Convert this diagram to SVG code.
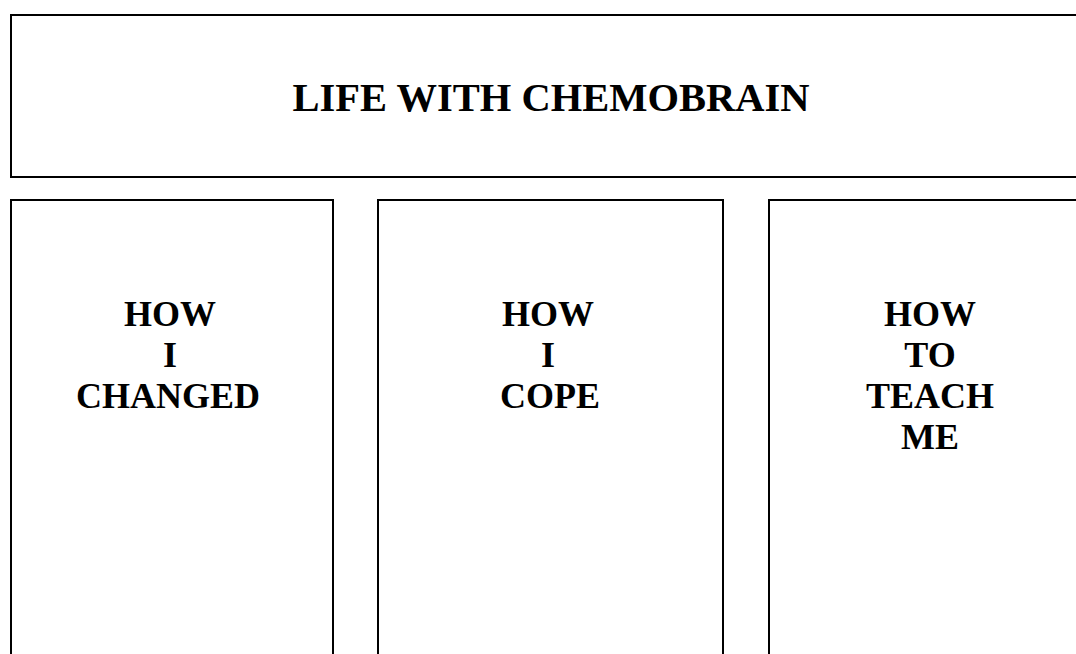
<svg xmlns="http://www.w3.org/2000/svg" width="1076" height="654" viewBox="0 0 1076 654">
<style>
.box{fill:#fff;stroke:#000;stroke-width:2}
.t{font-family:"Liberation Serif","Times New Roman",serif;font-weight:bold;fill:#000;text-anchor:middle}
.title{font-size:40.5px}
.lbl{font-size:36px}
</style>
<rect width="1076" height="654" fill="#fff"/>
<g id="title">
<rect class="box" x="11" y="15" width="1080" height="162"/>
<text class="t title" x="551" y="111">LIFE WITH CHEMOBRAIN</text>
</g>
<g id="changed">
<rect class="box" x="11" y="200" width="322" height="470"/>
<text class="t lbl" x="170" y="326">HOW</text>
<text class="t lbl" x="170" y="367">I</text>
<text class="t lbl" x="168" y="408">CHANGED</text>
</g>
<g id="cope">
<rect class="box" x="378" y="200" width="345" height="470"/>
<text class="t lbl" x="548" y="326">HOW</text>
<text class="t lbl" x="548" y="367">I</text>
<text class="t lbl" x="550" y="408">COPE</text>
</g>
<g id="teach">
<rect class="box" x="769" y="200" width="322" height="470"/>
<text class="t lbl" x="930" y="326">HOW</text>
<text class="t lbl" x="930" y="367">TO</text>
<text class="t lbl" x="930" y="408">TEACH</text>
<text class="t lbl" x="930" y="449">ME</text>
</g>
<g id="connectors"/>
</svg>
